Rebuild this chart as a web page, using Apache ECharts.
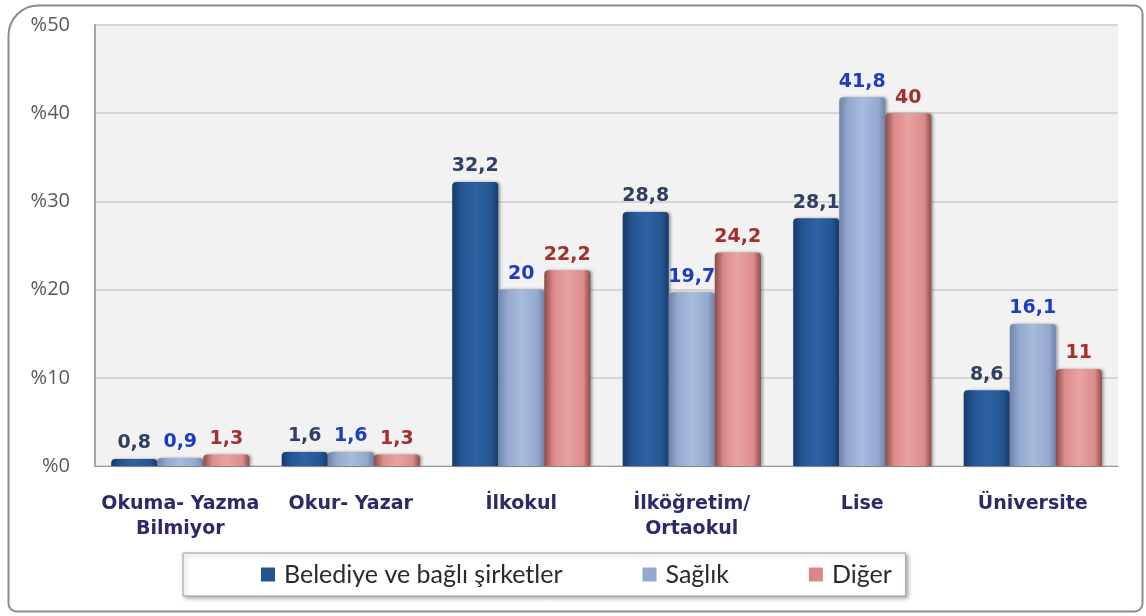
<!DOCTYPE html>
<html>
<head>
<meta charset="utf-8">
<script src="https://cdn.jsdelivr.net/npm/echarts@6/dist/echarts.min.js"></script>
<style>
  html, body { margin: 0; padding: 0; background: #fff; }
  #chart { width: 1146px; height: 616px; }
</style>
</head>
<body>
<div id="chart"></div>
<script>
// egitim durumu kategorileri
var categories = ['Okuma- Yazma\nBilmiyor', 'Okur- Yazar', 'İlkokul', 'İlköğretim/\nOrtaokul', 'Lise', 'Üniversite'];
var seriesNames = ['Belediye ve bağlı şirketler', 'Sağlık', 'Diğer'];
var belediye = [0.8, 1.6, 32.2, 28.8, 28.1, 8.6];
var saglik = [0.9, 1.6, 20, 19.7, 41.8, 16.1];
var diger = [1.3, 1.3, 22.2, 24.2, 40, 11];
var yTicks = [0, 10, 20, 30, 40, 50];

function grad(edge, mid, light) {
    return new echarts.graphic.LinearGradient(0, 0, 1, 0, [
        { offset: 0, color: edge },
        { offset: 0.2, color: mid },
        { offset: 0.5, color: light },
        { offset: 0.85, color: mid },
        { offset: 1, color: edge }
    ]);
}

var barColors = [
    grad('#173a6b', '#24558f', '#2d62a3'),
    grad('#6f83a8', '#94a9cf', '#a8bbdd'),
    grad('#8c4a4a', '#dc8c8a', '#e8a3a1')
];
var legendColors = ['#24558f', '#94a9cf', '#d98885'];
var labelColors = ['#2f4060', '#1f3cbf', '#a3302f'];

function fmt(p) {
    return String(p.value).replace('.', ',');
}

function makeSeries(name, data, i) {
    return {
        name: name,
        type: 'bar',
        data: data,
        barGap: '0%',
        barCategoryGap: '19%',
        itemStyle: {
            color: barColors[i],
            borderRadius: [4, 4, 0, 0],
            shadowColor: 'rgba(0,0,0,0.35)',
            shadowBlur: 3,
            shadowOffsetX: 2
        },
        label: {
            show: true,
            position: 'top',
            distance: 6,
            formatter: fmt,
            color: labelColors[i],
            fontFamily: 'DejaVu Sans',
            fontWeight: 'bold',
            fontSize: 19
        }
    };
}

var chart = echarts.init(document.getElementById('chart'));
chart.setOption({
    animation: false,
    backgroundColor: '#fff',
    graphic: [{
        type: 'rect',
        left: 6, top: 3,
        shape: { width: 1134, height: 606, r: [30, 8, 8, 8] },
        style: { fill: 'none', stroke: '#8c8c8c', lineWidth: 2 },
        z: -1
    }],
    grid: {
        left: 95, right: 28, top: 25, bottom: 150,
        show: true, backgroundColor: '#f2f2f2', borderWidth: 0
    },
    legend: {
        top: 553,
        left: 183,
        itemWidth: 14, itemHeight: 14,
        itemGap: 80,
        icon: 'rect',
        padding: [9, 14, 9, 78],
        borderColor: '#9a9a9a',
        borderWidth: 1,
        shadowColor: 'rgba(0,0,0,0.3)',
        shadowBlur: 4,
        shadowOffsetX: 2,
        shadowOffsetY: 2,
        backgroundColor: '#fff',
        textStyle: { fontFamily: 'Lato', fontSize: 25, color: '#2a2a2a', padding: [0, 0, 0, 4] },
        data: seriesNames.map(function (n, i) {
            return { name: n, itemStyle: { color: legendColors[i] } };
        })
    },
    xAxis: {
        type: 'category',
        data: categories,
        axisLine: { lineStyle: { color: '#9a9a9a', width: 1 } },
        axisTick: { show: false },
        axisLabel: {
            margin: 26,
            interval: 0,
            color: '#2b2b6b',
            fontFamily: 'DejaVu Sans',
            fontWeight: 'bold',
            fontSize: 19,
            lineHeight: 25
        }
    },
    yAxis: {
        type: 'value',
        min: yTicks[0],
        max: yTicks[yTicks.length - 1],
        interval: 10,
        axisLine: { show: true, lineStyle: { color: '#a6a6a6', width: 2 } },
        axisTick: { show: false },
        splitLine: { lineStyle: { color: '#d6d6d6', width: 2 } },
        axisLabel: {
            formatter: '%{value}',
            color: '#595959',
            fontFamily: 'Open Sans',
            fontSize: 20,
            margin: 25
        }
    },
    series: [
        makeSeries(seriesNames[0], belediye, 0),
        makeSeries(seriesNames[1], saglik, 1),
        makeSeries(seriesNames[2], diger, 2)
    ]
});
</script>
</body>
</html>
